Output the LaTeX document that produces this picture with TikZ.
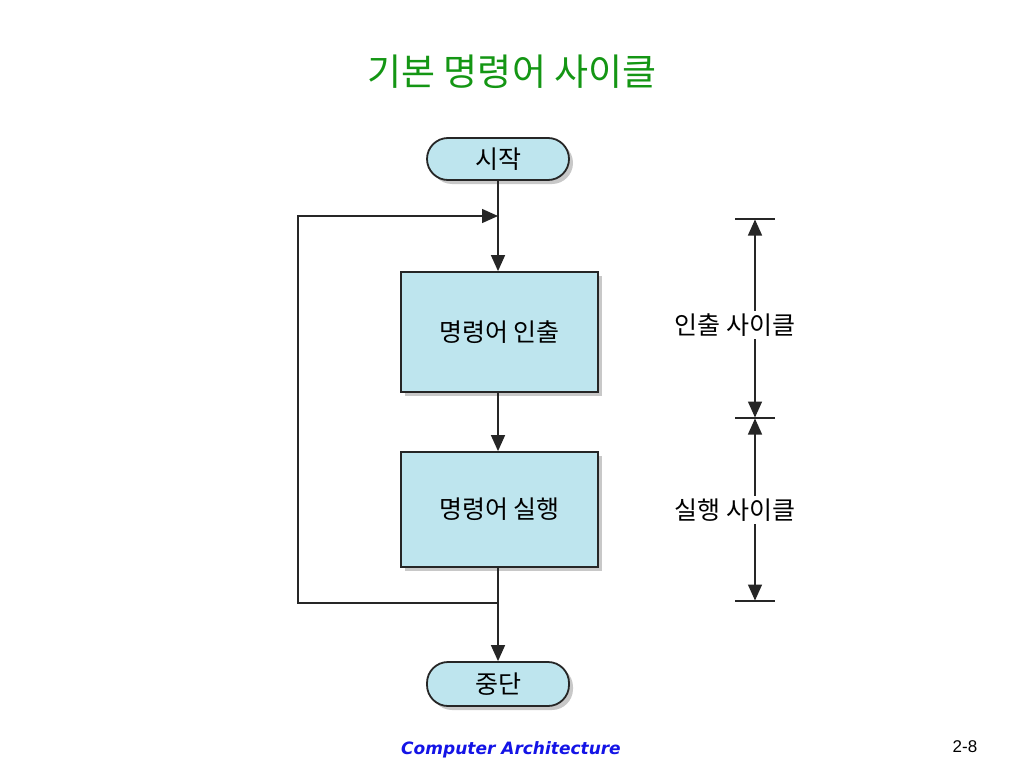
\documentclass[tikz,border=0pt]{standalone}
\usepackage{fontspec}
\setmainfont{Noto Sans CJK KR}
\newfontfamily\footfont{DejaVu Sans}
\newfontfamily\numfont{Liberation Sans}
\usetikzlibrary{arrows.meta,shadows}
\definecolor{boxblue}{RGB}{190,229,238}
\definecolor{titlegreen}{RGB}{20,150,20}
\definecolor{footblue}{RGB}{20,20,230}
\tikzset{
  flowbox/.style={draw=black!85, line width=1.8pt, fill=boxblue, minimum width=197pt, minimum height=120pt, inner sep=0pt, font=\fontsize{25}{28}\selectfont,
    drop shadow={shadow xshift=4pt, shadow yshift=-4pt, fill=black!30, opacity=0.7}},
  term/.style={draw=black!85, line width=1.8pt, fill=boxblue, minimum width=142pt, minimum height=42pt, rounded corners=21pt, inner sep=0pt, font=\fontsize{25}{28}\selectfont,
    drop shadow={shadow xshift=4pt, shadow yshift=-4pt, fill=black!30, opacity=0.7}},
  conn/.style={line width=1.4pt, draw=black!85},
  arr/.style={conn, -{Triangle[length=16pt,width=14pt]}},
  dim/.style={line width=1.4pt, draw=black!85, {Triangle[length=16pt,width=14pt]}-{Triangle[length=16pt,width=14pt]}, shorten <=0.5pt, shorten >=0.5pt},
  tick/.style={line width=1.4pt, draw=black!85},
  lbl/.style={font=\fontsize{25}{28}\selectfont, fill=white, inner sep=3pt}
}
\begin{document}
\begin{tikzpicture}[x=1pt,y=-1pt]
\useasboundingbox (0,0) rectangle (1024,768);
\fill[white] (0,0) rectangle (1024,768);
\node[text=titlegreen, font=\fontsize{37}{42}\selectfont] (title) at (512,72) {기본 명령어 사이클};

\node[term] (start) at (498,159) {시작};
\node[flowbox, minimum height=120pt] (fetch) at (499.5,332) {명령어 인출};
\node[flowbox, minimum height=115pt] (exec) at (499.5,509.5) {명령어 실행};
\node[term, minimum height=44pt] (stop) at (498,684) {중단};

\coordinate (merge) at (498,216);
\coordinate (junc) at (498,603);
\coordinate (cl) at (298,603);
\coordinate (tl) at (298,216);

\draw[arr] (start.south -| merge) -- (fetch.north -| merge);
\draw[arr] (fetch.south -| merge) -- (exec.north -| merge);
\draw[arr] (exec.south -| merge) -- (stop.north -| merge);
\draw[arr] (junc) -- (cl) -- (tl) -- (merge);

% dimension lines
\coordinate (d1) at (755,219);
\coordinate (d2) at (755,418);
\coordinate (d3) at (755,601);
\draw[tick] (735,219) -- (775,219);
\draw[tick] (735,418) -- (775,418);
\draw[tick] (735,601) -- (775,601);
\draw[dim] (d1) -- (d2);
\draw[dim] (d2) -- (d3);
\node[lbl] (fcyc) at (735,325) {인출 사이클};
\node[lbl] (ecyc) at (735,510) {실행 사이클};

\node[text=footblue, font=\footfont\bfseries\itshape\fontsize{17}{20}\selectfont] (foot) at (511,750) {Computer Architecture};
\node[font=\numfont\fontsize{17}{20}\selectfont] (page) at (965,747) {2-8};
\end{tikzpicture}
\end{document}
